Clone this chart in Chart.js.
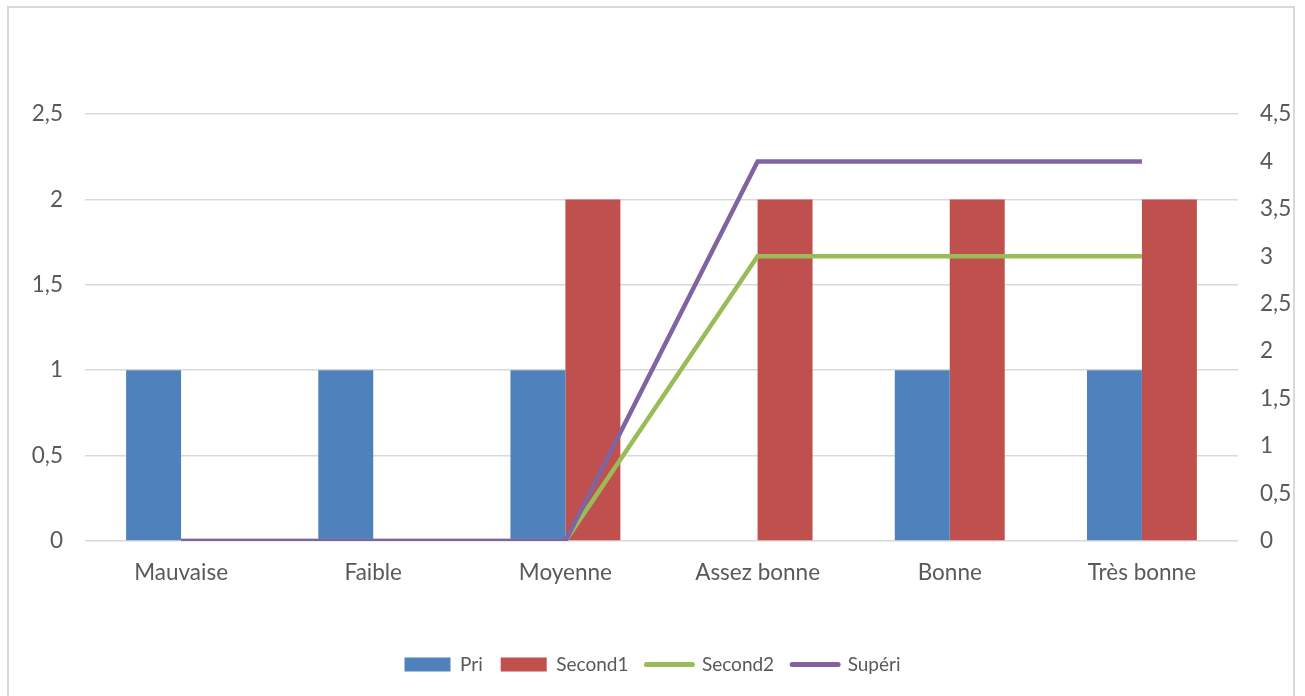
<!DOCTYPE html>
<html><head><meta charset="utf-8">
<script src="https://cdn.jsdelivr.net/npm/chart.js@4.4.0/dist/chart.umd.min.js"></script>
<style>html,body{margin:0;padding:0;background:#fff;}#wrap{width:1305px;height:696px;position:relative;}</style>
</head><body><div id="wrap"><canvas id="c" width="1305" height="696"></canvas></div>
<script>
const categories = ['Mauvaise','Faible','Moyenne','Assez bonne','Bonne','Très bonne'];
const pri = [1,1,1,0,1,1];
const second1 = [0,0,2,2,2,2];
const second2 = [0,0,0,3,3,3];
const superi = [0,0,0,4,4,4];
const leftTicks = [0,0.5,1,1.5,2,2.5];
const rightTicks = [0,0.5,1,1.5,2,2.5,3,3.5,4,4.5];

const FONT = 'Lato';
const FS = 22.5;
const LFS = 19;
const TXT = '#595959';
const fmt = v => String(v).replace('.', ',');

const borderPlugin = {
  id: 'frame',
  beforeDraw(chart){
    const ctx = chart.ctx;
    ctx.save();
    ctx.fillStyle = '#fff';
    ctx.fillRect(0,0,chart.width,chart.height);
    ctx.strokeStyle = '#D9D9D9';
    ctx.lineWidth = 2;
    ctx.strokeRect(8, 7, 1286, 720);
    ctx.restore();
  }
};

new Chart(document.getElementById('c'), {
  data: {
    labels: categories,
    datasets: [
      {type:'bar', label:'Pri', data:pri, backgroundColor:'#4F81BD', yAxisID:'y', order:2,
       barPercentage:1, categoryPercentage:0.572},
      {type:'bar', label:'Second1', data:second1, backgroundColor:'#C0504D', yAxisID:'y', order:2,
       barPercentage:1, categoryPercentage:0.572},
      {type:'line', label:'Second2', data:second2, borderColor:'#9BBB59', backgroundColor:'#9BBB59',
       borderWidth:4.5, pointRadius:0, yAxisID:'y1', order:1, tension:0},
      {type:'line', label:'Supéri', data:superi, borderColor:'#8064A2', backgroundColor:'#8064A2',
       borderWidth:4.5, pointRadius:0, yAxisID:'y1', order:0, tension:0}
    ]
  },
  options: {
    responsive:false, animation:false, locale:'fr-FR',
    layout:{padding:{top:114, left:0, right:0, bottom:12}},
    plugins:{
      tooltip:{enabled:false},
      legend:{
        position:'bottom',
        labels:{
          font:{family:FONT,size:LFS}, color:TXT, padding:18,
          usePointStyle:true, pointStyleWidth:46, boxHeight:14,
          generateLabels(chart){
            return chart.data.datasets.map((ds,i)=>({
              text:ds.label, datasetIndex:i,
              fillStyle:ds.backgroundColor, strokeStyle:ds.type==='line'?ds.borderColor:ds.backgroundColor,
              lineWidth:ds.type==='line'?5:0, lineCap:'round',
              pointStyle:ds.type==='line'?'line':'rect', hidden:false, fontColor:TXT
            }));
          }
        }
      }
    },
    scales:{
      x:{
        grid:{display:false}, border:{display:false},
        ticks:{font:{family:FONT,size:FS}, color:TXT, padding:10, maxRotation:0},
        afterFit(s){ s.height += 41; }
      },
      y:{
        position:'left', min:0, max:2.5,
        afterBuildTicks(s){ s.ticks = leftTicks.map(v=>({value:v})); },
        grid:{color:'#D9D9D9', lineWidth:1.5, drawTicks:false}, border:{display:false},
        ticks:{font:{family:FONT,size:FS}, color:TXT, padding:22, callback:v=>fmt(v)},
        afterFit(s){ s.width = 85; }
      },
      y1:{
        position:'right', min:0, max:4.5,
        afterBuildTicks(s){ s.ticks = rightTicks.map(v=>({value:v})); },
        grid:{display:false, drawTicks:false}, border:{display:false},
        ticks:{font:{family:FONT,size:FS}, color:TXT, padding:22, callback:v=>fmt(v)},
        afterFit(s){ s.width = 67; }
      }
    }
  },
  plugins:[borderPlugin]
});
</script></body></html>
